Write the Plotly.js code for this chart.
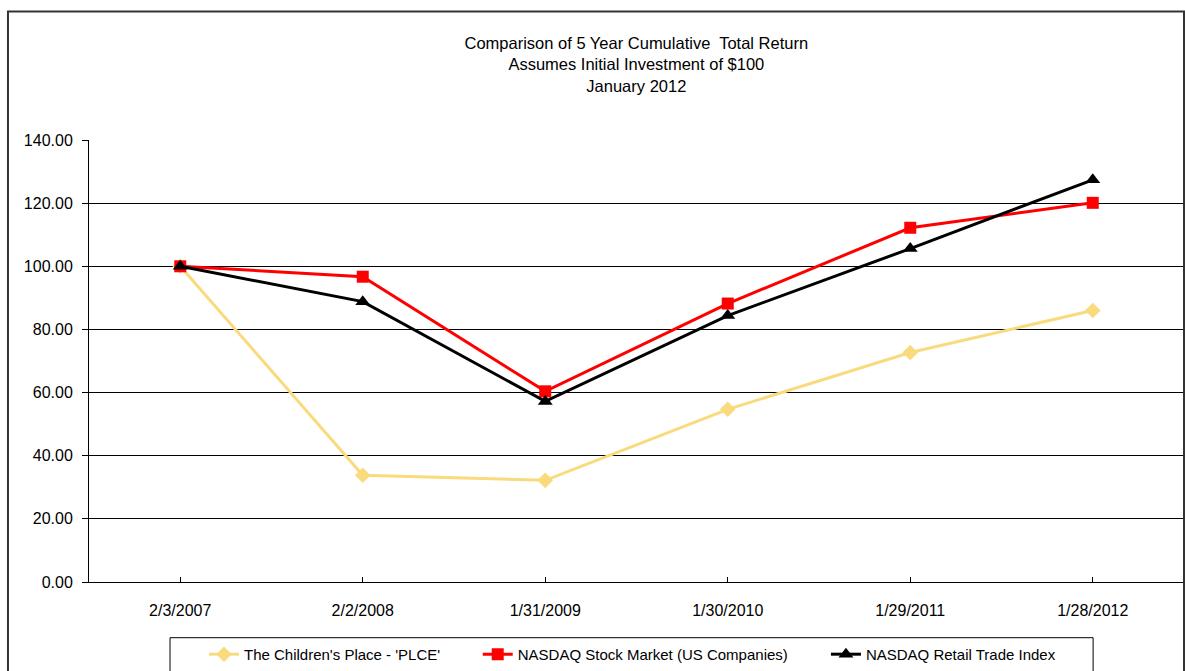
<!DOCTYPE html>
<html>
<head>
<meta charset="utf-8">
<script src="https://cdn.plot.ly/plotly-3.0.1.min.js"></script>
<style>
  html, body { margin: 0; padding: 0; background: #fff; }
  #chart { width: 1185px; height: 671px; }
</style>
</head>
<body>
<div id="chart"></div>
<script>
const dates = ["2/3/2007", "2/2/2008", "1/31/2009", "1/30/2010", "1/29/2011", "1/28/2012"];
const plce = [100.00, 33.8, 32.2, 54.7, 72.7, 86.0];
const nasdaq = [100.00, 96.7, 60.4, 88.2, 112.2, 120.1];
const retail = [100.00, 88.8, 57.2, 84.4, 105.6, 127.4];
const yTicks = [0, 20, 40, 60, 80, 100, 120, 140];
const seriesNames = ["The Children's Place - 'PLCE'", "NASDAQ Stock Market (US Companies)", "NASDAQ Retail Trade Index"];

const FONT = "Liberation Sans, Arial, sans-serif";

const traces = [
  {
    x: dates, y: plce, name: seriesNames[0], type: "scatter", mode: "lines+markers",
    line: { color: "#F9DA7C", width: 3 },
    marker: { symbol: "diamond", size: 12, color: "#F9DA7C" },
    legend: "legend"
  },
  {
    x: dates, y: nasdaq, name: seriesNames[1], type: "scatter", mode: "lines+markers",
    line: { color: "#FF0000", width: 3 },
    marker: { symbol: "square", size: 12, color: "#FF0000" },
    legend: "legend2"
  },
  {
    x: dates, y: retail, name: seriesNames[2], type: "scatter", mode: "lines+markers",
    line: { color: "#000000", width: 3 },
    marker: { symbol: "triangle-up", size: 13, color: "#000000" },
    legend: "legend3"
  }
];

function legendAt(xp) {
  return {
    orientation: "h",
    x: xp, xanchor: "left",
    y: -0.124, yanchor: "top",
    borderwidth: 0,
    bgcolor: "rgba(0,0,0,0)",
    font: { family: FONT, size: 15, color: "#000" }
  };
}

const layout = {
  width: 1185, height: 671,
  margin: { l: 89, r: 1, t: 140, b: 88 },
  paper_bgcolor: "#ffffff", plot_bgcolor: "#ffffff",
  font: { family: FONT, size: 16, color: "#000" },
  showlegend: true,
  title: {
    text: "Comparison of 5 Year Cumulative  Total Return<br>Assumes Initial Investment of $100<br>January 2012",
    font: { family: FONT, size: 16.5, color: "#000" },
    x: 0.537, xanchor: "center",
    y: 1 - 49 / 671, yanchor: "top"
  },
  xaxis: {
    type: "category",
    range: [-0.5, 5.5],
    showgrid: false,
    showline: true, linecolor: "#000", linewidth: 1,
    ticks: "inside", ticklen: 5, tickcolor: "#000",
    ticklabelstandoff: 14,
    tickfont: { family: FONT, size: 16, color: "#000" },
    fixedrange: true
  },
  yaxis: {
    range: [0, 140],
    tickvals: yTicks,
    tickformat: ".2f",
    showgrid: true, gridcolor: "#000", gridwidth: 1,
    showline: true, linecolor: "#000", linewidth: 1,
    zeroline: false,
    ticks: "outside", ticklen: 6, tickcolor: "#000",
    ticklabelstandoff: 6,
    tickfont: { family: FONT, size: 16, color: "#000" },
    fixedrange: true
  },
  legend: legendAt(0.105),
  legend2: legendAt(0.355),
  legend3: legendAt(0.673),
  shapes: [
    {
      type: "path", xref: "paper", yref: "paper",
      path: "M -0.074,-0.3 L -0.074,1.291 L 1.0,1.291 L 1.0,-0.3",
      line: { color: "#333", width: 2 }
    },
    {
      type: "rect", xref: "paper", yref: "paper",
      x0: 0.074, x1: 0.917, y0: -0.126, y1: -0.3,
      line: { color: "#000", width: 1 }
    }
  ]
};

Plotly.newPlot("chart", traces, layout, { displayModeBar: false, staticPlot: true });
</script>
</body>
</html>
